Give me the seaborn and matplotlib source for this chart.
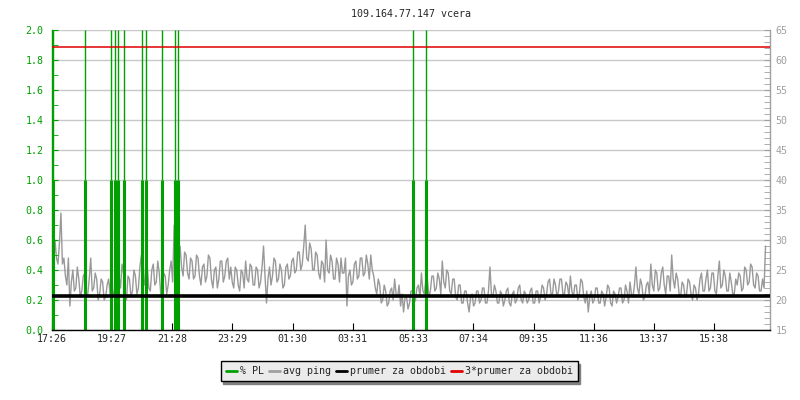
import pandas as pd
import matplotlib
matplotlib.use('Agg')
import matplotlib.pyplot as plt
import seaborn as sns
from matplotlib.ticker import MultipleLocator

# Data
title = '109.164.77.147 vcera'
start_time = '17:26'
step_min = 6
period_min = 1446

# avg ping in ms: one value every 6 minutes from 17:26 ...
ping_ms = [
    27.5, 30, 26, 34.5, 27, 22.5, 19, 25, 22, 23.5,
    21.5, 24.5, 21, 27, 22, 23.5, 21, 23, 20.5, 23.5,
    26, 21.5, 33, 22, 24.5, 20, 23.5, 21.5, 24, 22,
    27.5, 22.5, 25.5, 21.5, 26, 23, 24.5, 21.5, 24, 22.5,
    26.5, 32.5, 27, 29, 24, 27.5, 23.5, 26.5, 24, 27,
    22.5, 26, 24, 27, 22, 25.5, 23.5, 26.5, 24, 27,
    25.5, 22, 25, 21.5, 24.5, 26.5, 23, 25.5, 22.5, 25,
    23, 29, 19.5, 25.5, 24, 26.5, 23.5, 25, 22.5, 26,
    24, 27, 25, 28, 26, 32.5, 26.5, 28.5, 25, 27.5,
    23.5, 26, 30, 24.5, 26.5, 23.5, 26, 27, 24.5, 19,
    25, 23, 26.5, 24, 27, 24.5, 26, 27.5, 24, 21,
    22.5, 20, 21.5, 19.5, 22, 23.5, 20.5, 19, 18, 20.5,
    19.5, 21.5, 20, 22.5, 24.5, 21, 23.5, 21.5, 24, 22,
    23.5, 26.5, 22, 24.5, 21, 23.5, 20, 22.5, 19.5, 21.5,
    18, 21, 19.5, 21.5, 20, 22, 19.5, 25.5, 20.5, 21.5,
    19.5, 21, 20, 22, 19, 21.5, 20, 22.5, 19.5, 21,
    20, 22, 19.5, 21.5, 20.5, 22, 21, 23.5, 21, 22.5,
    21.5, 23.5, 21, 22.5, 24, 20.5, 22.5, 21, 23, 19.5,
    18, 21.5, 20, 22, 19.5, 21, 20.5, 22, 19, 21,
    20.5, 22, 20, 21.5, 23, 20.5, 25.5, 21, 22.5, 20.5,
    23, 26, 21.5, 24.5, 22, 25.5, 21, 24, 27.5, 22,
    23.5, 20.5, 22.5, 21, 23, 20, 22, 21, 24.5, 21.5,
    25, 22, 24.5, 21, 26.5, 22.5, 24, 21.5, 23, 21,
    22.5, 24, 22, 25, 23, 25.5, 22, 24, 21.5, 22,
]
# ... and the in-between samples, 3 minutes later
ping_ms_mid = [
    25, 27, 29.5, 26, 24, 27, 23, 21.5, 25.5, 20.5,
    24, 20.5, 23.5, 21.5, 24.5, 20, 23.5, 20, 22.5, 21,
    20.5, 25, 24, 26, 21, 24, 20.5, 25, 21, 25.5,
    23, 26, 22, 25, 22.5, 26.5, 21, 24.5, 21, 25,
    23, 28, 25, 25.5, 28, 24.5, 27, 23.5, 27.5, 24,
    25.5, 23, 27.5, 23.5, 25, 22, 26.5, 23, 26.5, 23.5,
    23, 25.5, 22.5, 25, 22, 23.5, 26, 22.5, 25.5, 22,
    25.5, 24, 23.5, 22.5, 27, 23, 26, 22, 25.5, 23.5,
    26.5, 24.5, 28, 25, 29, 27, 29.5, 25, 28, 24.5,
    26.5, 23, 25, 27.5, 23.5, 27, 23, 24.5, 27, 24,
    22.5, 26, 23.5, 27, 24, 27.5, 23.5, 25, 22, 23.5,
    19.5, 22.5, 19, 21.5, 20, 21, 22.5, 21, 20.5, 18.5,
    21.5, 19.5, 22, 20.5, 21.5, 23.5, 20.5, 24, 21.5, 24.5,
    21, 23, 25, 21.5, 23.5, 20.5, 22.5, 19.5, 21.5, 19.5,
    20.5, 19, 21.5, 19.5, 22, 19.5, 21.5, 21, 22.5, 19.5,
    21.5, 19, 21.5, 19.5, 21, 19.5, 22, 20, 21.5, 19.5,
    21.5, 19.5, 21.5, 19.5, 22.5, 20, 23, 21, 23.5, 20.5,
    23.5, 21, 23, 20.5, 21.5, 22.5, 20, 23.5, 20.5, 21.5,
    20.5, 19.5, 22, 19.5, 21.5, 19, 22.5, 19.5, 21.5, 19.5,
    22, 19.5, 22.5, 19.5, 21, 22.5, 22, 23.5, 20, 22.5,
    21, 22.5, 25, 21.5, 24.5, 22.5, 24, 21.5, 23.5, 24.5,
    21, 23, 20.5, 23.5, 21, 22.5, 20, 23.5, 21.5, 23.5,
    21.5, 24.5, 21.5, 24, 22, 25, 21.5, 24.5, 21, 23.5,
    24.5, 21.5, 25.5, 22.5, 26, 22.5, 24.5, 21.5, 23.5, 29,
]

# packet loss events (minutes after 17:26) and their % PL
pl_min = [3, 67, 118, 126, 133, 146, 182, 190, 221, 247, 253, 728, 753]
pl_pct = [1.0] * len(pl_min)
pl_top = 2.0

prumer = 20.6
prumer3 = 62.2

tick_labels = ['17:26', '19:27', '21:28', '23:29', '01:30', '03:31',
               '05:33', '07:34', '09:35', '11:36', '13:37', '15:38']

legend_labels = ['% PL', 'avg ping', 'prumer za obdobi', '3*prumer za obdobi']

GREEN = '#00a000'
GRAY = '#999999'
GRID = '#c8c8c8'


def minutes_after_start(label):
    h, m = map(int, label.split(':'))
    sh, sm = map(int, start_time.split(':'))
    return (h * 60 + m - sh * 60 - sm) % 1440


ping = pd.concat([
    pd.DataFrame({'t': [i * step_min for i in range(len(ping_ms))],
                  'ms': ping_ms}),
    pd.DataFrame({'t': [i * step_min + step_min / 2 for i in range(len(ping_ms_mid))],
                  'ms': ping_ms_mid}),
]).sort_values('t').reset_index(drop=True)
tick_pos = [minutes_after_start(t) * 1.0009 for t in tick_labels]

sns.set_style('white')
plt.rcParams['font.family'] = ['DejaVu Sans Mono']
plt.rcParams['font.size'] = 7.2

fig = plt.figure(figsize=(8, 4), dpi=100)
ax = fig.add_axes([0.065, 0.175, 0.8975, 0.7495])
ax2 = ax.twinx()   # ping scale
ax3 = ax.twinx()   # mean lines, drawn on top
ax2.set_zorder(1)
ax.set_zorder(2)
ax3.set_zorder(3)
for a in (ax, ax3):
    a.patch.set_visible(False)

# ping
sns.lineplot(data=ping, x='t', y='ms', ax=ax2, color=GRAY, lw=1,
             label=legend_labels[1], legend=False)
ax2.set_ylim(15, 65)
ax2.yaxis.set_major_locator(MultipleLocator(5))
ax2.yaxis.set_minor_locator(MultipleLocator(1))
ax2.grid(axis='y', color=GRID, lw=1)
ax2.set_ylabel('')
ax2.tick_params(axis='y', which='both', direction='in', colors='#a0a0a0',
                length=4, pad=4, right=True)

# packet loss
ax.vlines(pl_min, 0, pl_pct, color=GREEN, lw=2.2)
ax.vlines(pl_min, pl_pct, pl_top, color=GREEN, lw=1)
ax.set_ylim(0, 2.0)
ax.set_xlim(0, period_min)
ax.yaxis.set_major_locator(MultipleLocator(0.2))
ax.yaxis.set_minor_locator(MultipleLocator(0.1))
ax.yaxis.set_major_formatter(lambda v, p: f'{v:.1f}')
ax.tick_params(axis='y', which='both', direction='in', colors=GREEN,
               length=4, pad=6, left=True)
ax.set_xticks(tick_pos, tick_labels)
ax.tick_params(axis='x', direction='in', length=5, color='black', pad=3,
               bottom=True)

# mean lines
ax3.axhline(prumer, color='black', lw=2.6)
ax3.axhline(prumer3, color='#e00000', lw=1.1)
ax3.set_ylim(15, 65)
ax3.set_yticks([])

for a in (ax, ax2, ax3):
    for s in a.spines.values():
        s.set_visible(False)
ax.spines['left'].set_visible(True)
ax.spines['left'].set_color(GREEN)
ax.spines['bottom'].set_visible(True)
ax.spines['bottom'].set_color('black')
ax2.spines['right'].set_visible(True)
ax2.spines['right'].set_color('#a0a0a0')
for s in ('left', 'bottom'):
    ax.spines[s].set_linewidth(1)
ax2.spines['right'].set_linewidth(1)

fig.text(0.514, 0.965, title, ha='center', va='center', fontsize=7.2)

handles = [plt.Line2D([], [], color=c, lw=2)
           for c in (GREEN, '#a0a0a0', 'black', '#e00000')]
leg = fig.legend(handles, legend_labels, loc='center', ncol=4,
                 bbox_to_anchor=(0.4988, 0.0725),
                 bbox_transform=fig.transFigure, frameon=True,
                 fancybox=False, shadow={'color': '#808080', 'alpha': 1},
                 handlelength=1.1, handletextpad=0.3, columnspacing=0.5,
                 borderpad=0.5, fontsize=7.2)
leg.get_frame().set_facecolor('#ebebeb')
leg.get_frame().set_edgecolor('black')
leg.get_frame().set_linewidth(1)
leg.get_frame().set_alpha(1)

fig.savefig('out.png', dpi=100, facecolor='white')
